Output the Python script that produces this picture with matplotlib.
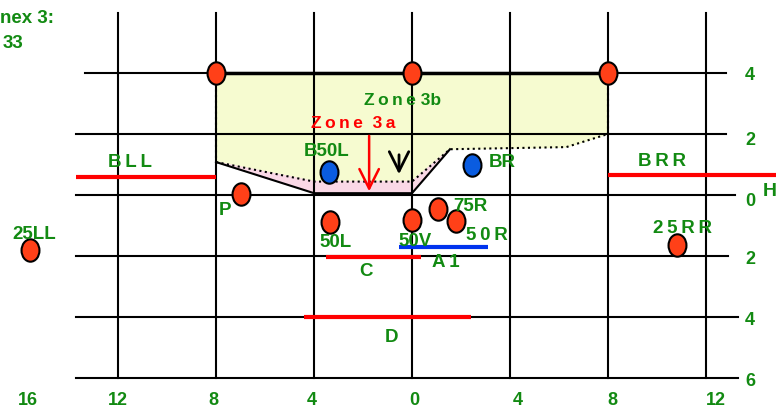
import matplotlib.pyplot as plt
from matplotlib.path import Path
from matplotlib.transforms import Affine2D

plt.rcParams['font.family'] = ['Liberation Sans', 'DejaVu Sans']
GREEN = '#128A12'
TS = '\u2009'  # thin space used for the letter-spaced labels

# grid (degrees): vertical lines L/R, horizontal lines U/D
grid_x = [-12, -8, -4, 0, 4, 8, 12]
grid_y = [4, 2, 0, -2, -4, -6]
grid_y_start = [-13.35, -13.7, -13.7, -13.7, -13.7, -13.7]
grid_y_end = [12.8, 12.8, 13.2, 12.9, 13.3, 13.3]

# zone 3 outline (3b) and lower boundary of 3a
zone3b_x = [-8, -8, -4, 0, 1.55, 6.3, 8, 8]
zone3b_y = [4, 1.08, 0.44, 0.44, 1.5, 1.57, 2.0, 4]
zone3a_x = [-8, -4, 0, 1.55]
zone3a_y = [1.08, 0.06, 0.06, 1.5]

# measuring points
red_x = [-8, 0, 8, -7.0, -15.6, -3.35, 0, 1.07, 1.78, 10.8]
red_y = [4, 4, 4, 0.03, -1.8, -0.87, -0.82, -0.47, -0.84, -1.64]
blue_x = [-3.4, 2.45]
blue_y = [0.75, 0.98]

# red / blue line segments: x0, x1, y
seg_names = ['BLL', 'BRR', 'C', 'D', 'A1']
seg_x0 = [-13.7, 8.0, -3.5, -4.4, -0.53]
seg_x1 = [-8.0, 14.9, 0.35, 2.4, 3.1]
seg_y = [0.59, 0.66, -2.04, -4.0, -1.71]
seg_col = ['red', 'red', 'red', 'red', '#0033EE']

# point / zone labels
lab_text = ['BLL', 'BRR', 'B50L', 'BR', 'P', '25LL', '50L', '50V', '75R',
            '50R', 'A1', 'C', 'D', '25RR']
lab_x = [-11.5, 10.2, -3.5, 3.67, -7.63, -15.43, -3.1, 0.12, 2.37,
         3.06, 1.39, -1.88, -0.82, 11.06]
lab_y = [1.08, 1.11, 1.41, 1.08, -0.52, -1.31, -1.57, -1.51, -0.39,
         -1.34, -2.2, -2.49, -4.66, -1.11]
spaced = ['BLL', 'BRR', '50R', '25RR', 'A1']

# axis numbers
bottom_lab = ['16', '12', '8', '4', '0', '4', '8', '12']
bottom_x = [-15.7, -12, -8.1, -4.1, 0.1, 4.3, 8.2, 12.4]
right_lab = ['4', '2', '0', '2', '4', '6']
right_y = [3.9, 1.8, -0.22, -2.1, -4.1, -6.1]

fig = plt.figure(figsize=(7.76, 4.12), dpi=100)
ax = fig.add_axes([0, 0, 1, 1])
ax.set_xlim(-16.82, 14.86)
ax.set_ylim(-7.11, 6.39)
ax.axis('off')

# zone fills
ax.fill(zone3b_x, zone3b_y, color='#F6FBD0', zorder=1)
ax.fill(zone3a_x + zone3a_x[::-1], zone3a_y + zone3b_y[1:5][::-1],
        color='#FAD8E6', zorder=1)

# grid
for gx in grid_x:
    ax.plot([gx, gx], [-6, 5.97], color='black', lw=1.5, zorder=2)
for gy, x0, x1 in zip(grid_y, grid_y_start, grid_y_end):
    ax.plot([x0, x1], [gy, gy], color='black', lw=1.5, zorder=2)

# zone outlines
ax.plot(zone3b_x[1:-1], zone3b_y[1:-1], color='black', lw=1.5, ls=':', zorder=3)
ax.plot([-8, -8], [4, 1.08], color='black', lw=1.5, ls=':', zorder=3)
ax.plot([8, 8], [2, 4], color='black', lw=1.5, ls=':', zorder=3)
ax.plot([-8, 8], [4, 4], color='black', lw=2.5, zorder=3)
ax.plot(zone3a_x, zone3a_y, color='black', lw=1.5, zorder=3)

# segments
for x0, x1, y, c in zip(seg_x0, seg_x1, seg_y, seg_col):
    ax.plot([x0, x1], [y, y], color=c, lw=3, zorder=4, solid_capstyle='butt')

# arrows
ax.annotate('', xy=(-0.53, 0.59), xytext=(-0.53, 1.41),
            arrowprops=dict(arrowstyle='->,head_length=0.7,head_width=0.35',
                            color='black', lw=2, mutation_scale=20), zorder=5)
ax.annotate('', xy=(-1.75, 0.03), xytext=(-1.75, 2.03),
            arrowprops=dict(arrowstyle='->,head_length=0.7,head_width=0.35',
                            color='red', lw=1.8, mutation_scale=20), zorder=5)

# dots
oval = Path.unit_circle().transformed(Affine2D().scale(0.8, 1.0))
ax.scatter(red_x, red_y, s=260, marker=oval, color='#FF4018',
           edgecolors='black', linewidths=1.5, zorder=6)
ax.scatter(blue_x, blue_y, s=260, marker=oval, color='#0A5CE0',
           edgecolors='black', linewidths=1.5, zorder=6)

# labels
for t, x, y in zip(lab_text, lab_x, lab_y):
    s = TS.join(t) if t in spaced else t
    ax.text(x, y, s, color=GREEN, fontsize=13.5, fontweight='bold',
            ha='center', va='center', zorder=7)
ax.text(-0.37, 3.11, TS.join('Zone') + ' 3b', color=GREEN, fontsize=12.5,
        fontweight='bold', ha='center', va='center', zorder=7)
ax.text(-2.41, 2.33, TS.join('Zone') + '  3' + TS + 'a', color='red',
        fontsize=12.5, fontweight='bold', ha='center', va='center', zorder=7)

for t, x in zip(bottom_lab, bottom_x):
    ax.text(x, -6.72, t, color=GREEN, fontsize=13, fontweight='bold',
            ha='center', va='center')
for t, y in zip(right_lab, right_y):
    ax.text(13.8, y, t, color=GREEN, fontsize=13, fontweight='bold',
            ha='center', va='center')
ax.text(14.6, 0.12, 'H', color=GREEN, fontsize=14, fontweight='bold',
        ha='center', va='center')

# visible part of the title in the top-left corner
ax.text(-16.8, 5.8, 'nex 3:', color=GREEN, fontsize=13.5,
        fontweight='bold', ha='left', va='center')
ax.text(-16.7, 4.97, '33', color=GREEN, fontsize=13.5,
        fontweight='bold', ha='left', va='center')

fig.savefig('out.png', dpi=100)
